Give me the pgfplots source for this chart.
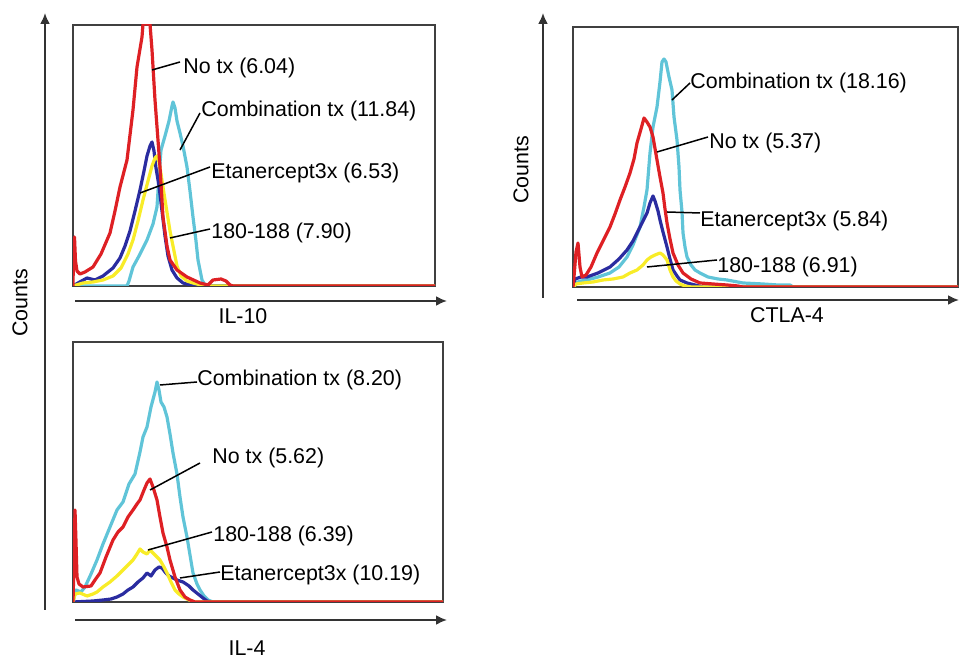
\documentclass[border=0pt]{standalone}
\usepackage{pgfplots}
\pgfplotsset{compat=1.18}
\usepackage{fontspec}
\setmainfont{Liberation Sans}
\usetikzlibrary{arrows.meta}

\definecolor{cRed}{RGB}{222,32,36}
\definecolor{cCyan}{RGB}{96,196,216}
\definecolor{cBlue}{RGB}{42,44,160}
\definecolor{cYel}{RGB}{248,236,40}

\pgfplotsset{
  hist/.style={
    scale only axis, xtick=\empty, ytick=\empty,
    axis line style={line width=1pt, black!75},
    anchor=south west, clip=true,
    every axis plot/.append style={line width=1.6pt, line join=round, no markers},
  },
}
\tikzset{
  ax/.style={line width=1pt, black!80, -{Latex[length=5.5pt,width=5pt]}},
  lead/.style={line width=0.75pt, black},
  lab/.style={anchor=west, inner sep=0pt, font=\fontsize{10.7}{12}\selectfont},
}

\begin{document}
\begin{tikzpicture}
\useasboundingbox (0,0) rectangle (479.5pt,328.5pt);

% ---------- IL-10 ----------
\begin{axis}[hist, at={(36.5pt,185.5pt)}, width=181pt, height=130.5pt,
  xmin=0, xmax=362, ymin=0, ymax=261]
\addplot[cCyan] coordinates {(0,0)(54,0)(56,5)(60,19)(66,30)(74,46)(80,62)(84,79)(86,110)(88,136)(92,150)(96,165)(99,180)(100,184)(102,178)(104,165)(107,153)(110,140)(114,119)(117,95)(120,69)(123,45)(125,26)(129,6)(132,1)(135,0)(362,0)};
\addplot[cBlue] coordinates {(0,0)(5,3)(14,8)(22,6)(30,10)(40,18)(47,28)(52,40)(57,55)(62,75)(67,96)(71,115)(74,130)(77,140)(79,144)(81,135)(83,118)(86,100)(89,75)(92,50)(95,30)(99,16)(104,8)(110,3)(118,1)(125,0)(362,0)};
\addplot[cYel] coordinates {(0,0)(10,3)(20,4)(30,6)(40,10)(48,18)(55,32)(60,46)(65,65)(70,86)(75,105)(79,120)(82,128)(84,130)(86,124)(88,112)(90,99)(93,80)(97,55)(101,35)(104,20)(108,10)(114,5)(120,3)(128,1)(135,0)(362,0)};
\addplot[cRed] coordinates {(0,0)(0.5,35)(1.5,49)(2.5,25)(4,15)(7,12)(12,14)(20,19)(28,32)(37,53)(42,75)(47,99)(54,126)(60,176)(64,219)(69,249)(70,262)(77,262)(79,236)(82,186)(87,119)(90,69)(94,40)(97,26)(104,16)(114,9)(127,3)(135,1)(140,6)(148,7)(153,5)(157,1)(160,0)(362,0)};
\draw[lead] (axis cs:79,216) -- (axis cs:107,224);
\node[lab] at (axis cs:110,218) {No tx (6.04)};
\draw[lead] (axis cs:107,136) -- (axis cs:127,173);
\node[lab] at (axis cs:128,175) {Combination tx (11.84)};
\draw[lead] (axis cs:67,93) -- (axis cs:137,119);
\node[lab] at (axis cs:138,113) {Etanercept3x (6.53)};
\draw[lead] (axis cs:97,48) -- (axis cs:137,57);
\node[lab] at (axis cs:138,53) {180-188 (7.90)};
\end{axis}

% ---------- IL-4 ----------
\begin{axis}[hist, at={(36.5pt,27.5pt)}, width=185pt, height=130pt,
  xmin=0, xmax=370, ymin=0, ymax=260]
\addplot[cCyan] coordinates {(0,0)(3,12)(8,10)(12,15)(18,28)(24,42)(30,58)(37,75)(44,92)(50,100)(56,118)(62,128)(67,150)(70,165)(74,175)(78,195)(82,210)(84,220)(86,212)(88,200)(91,195)(94,185)(97,168)(100,149)(104,128)(107,105)(110,85)(114,65)(117,47)(120,29)(124,18)(127,12)(131,6)(135,2)(140,0)(370,0)};
\addplot[cBlue] coordinates {(0,0)(20,1)(30,2)(38,3)(44,5)(50,8)(55,12)(60,15)(65,20)(70,24)(74,29)(78,26)(82,32)(86,35)(89,34)(92,30)(96,26)(100,24)(104,22)(110,20)(116,16)(120,12)(125,8)(130,4)(134,1)(138,0)(370,0)};
\addplot[cYel] coordinates {(0,0)(2,8)(7,9)(14,6)(20,8)(24,10)(30,15)(37,20)(44,26)(50,32)(54,36)(60,42)(64,48)(67,53)(70,50)(74,48)(77,52)(79,50)(83,46)(87,42)(91,35)(94,29)(98,20)(102,12)(106,8)(110,5)(116,2)(122,0)(370,0)};
\addplot[cRed] coordinates {(0,0)(1,40)(2,92)(3,60)(4,25)(6,18)(10,15)(18,16)(22,22)(27,29)(33,45)(40,62)(45,70)(50,75)(55,85)(60,92)(64,98)(67,102)(71,112)(74,119)(77,123)(80,115)(84,102)(87,85)(90,69)(94,55)(97,42)(102,25)(107,12)(112,5)(117,2)(122,0)(370,0)};
\draw[lead] (axis cs:87,217) -- (axis cs:124,220);
\node[lab] at (axis cs:124,222) {Combination tx (8.20)};
\draw[lead] (axis cs:77,112) -- (axis cs:127,139);
\node[lab] at (axis cs:139,144) {No tx (5.62)};
\draw[lead] (axis cs:75,52) -- (axis cs:139,70);
\node[lab] at (axis cs:140,66) {180-188 (6.39)};
\draw[lead] (axis cs:107,24) -- (axis cs:147,30);
\node[lab] at (axis cs:147,27) {Etanercept3x (10.19)};
\end{axis}

% ---------- CTLA-4 ----------
\begin{axis}[hist, at={(286.5pt,185pt)}, width=192.5pt, height=130pt,
  xmin=0, xmax=385, ymin=0, ymax=260]
\addplot[cCyan] coordinates {(0,0)(2,4)(8,6)(14,7)(25,10)(37,14)(46,20)(54,30)(60,42)(67,60)(71,80)(74,97)(77,134)(80,160)(84,180)(87,205)(89,225)(91,228)(93,225)(96,210)(99,197)(101,170)(104,147)(106,120)(107,97)(109,75)(110,54)(112,40)(114,30)(118,22)(122,17)(127,14)(135,10)(145,8)(154,7)(170,4)(190,3)(205,2)(217,2)(220,0)(385,0)};
\addplot[cBlue] coordinates {(0,0)(2,8)(8,10)(14,10)(25,14)(37,20)(46,28)(54,37)(60,46)(64,54)(70,66)(74,74)(77,84)(80,91)(82,86)(85,76)(87,67)(90,55)(94,40)(97,28)(100,17)(104,11)(107,7)(114,4)(122,2)(130,0)(385,0)};
\addplot[cYel] coordinates {(0,0)(3,3)(10,4)(20,5)(30,7)(40,8)(50,10)(57,14)(64,17)(70,22)(74,27)(78,30)(82,32)(87,34)(90,32)(94,27)(97,17)(100,10)(103,6)(107,3)(112,1)(118,0)(385,0)};
\addplot[cRed] coordinates {(0,0)(1,10)(3,35)(5,44)(7,20)(9,10)(13,12)(18,20)(24,34)(30,46)(37,60)(42,73)(47,87)(52,100)(57,114)(61,128)(64,144)(68,158)(71,169)(74,165)(77,160)(80,150)(84,127)(87,110)(90,94)(92,78)(94,64)(97,48)(100,34)(105,22)(110,14)(118,8)(127,4)(140,3)(154,2)(165,1)(170,0)(385,0)};
\draw[lead] (axis cs:99,187) -- (axis cs:117,204);
\node[lab] at (axis cs:117,204) {Combination tx (18.16)};
\draw[lead] (axis cs:84,135) -- (axis cs:135,150);
\node[lab] at (axis cs:136,144) {No tx (5.37)};
\draw[lead] (axis cs:94,75) -- (axis cs:127,74);
\node[lab] at (axis cs:127,66) {Etanercept3x (5.84)};
\draw[lead] (axis cs:74,20) -- (axis cs:144,27);
\node[lab] at (axis cs:144,20) {180-188 (6.91)};
\end{axis}

% ---------- outer axes ----------
\draw[ax] (22.5pt,23.5pt) -- (22.5pt,322pt);
\draw[ax] (37.5pt,178pt) -- (223.5pt,178pt);
\draw[ax] (37.5pt,18.5pt) -- (223.5pt,18.5pt);
\draw[ax] (271.5pt,179.5pt) -- (271.5pt,322pt);
\draw[ax] (288.5pt,178.5pt) -- (479.5pt,178.5pt);
\node[font=\fontsize{10.7}{12}\selectfont] at (121.5pt,170.5pt) {IL-10};
\node[font=\fontsize{10.7}{12}\selectfont] at (123.5pt,4.5pt) {IL-4};
\node[font=\fontsize{10.7}{12}\selectfont] at (393.5pt,171pt) {CTLA-4};
\node[font=\fontsize{10.7}{12}\selectfont, rotate=90] at (10pt,177pt) {Counts};
\node[font=\fontsize{10.7}{12}\selectfont, rotate=90] at (260.5pt,243.5pt) {Counts};
\end{tikzpicture}
\end{document}
